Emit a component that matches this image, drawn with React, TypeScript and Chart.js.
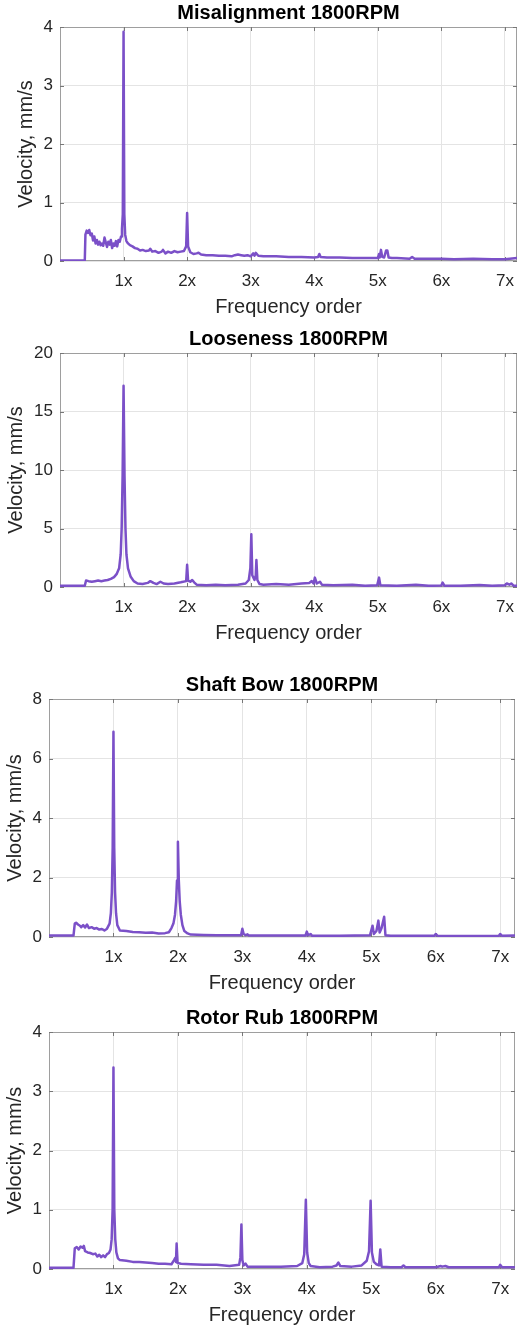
import { useEffect, useRef } from 'react';
import { Chart, registerables } from 'chart.js';

Chart.register(...registerables);

// ---------- data ----------
const orderTicks = [1, 2, 3, 4, 5, 6, 7];
const orderTickLabels = ['1x', '2x', '3x', '4x', '5x', '6x', '7x'];

// [frequency order, velocity mm/s]
const misalignment: [number, number][] = [
  [0, 0.01], [0.39, 0.01], [0.4, 0.45], [0.42, 0.52], [0.44, 0.48], [0.46, 0.53], [0.48, 0.44],
  [0.5, 0.47], [0.52, 0.35], [0.54, 0.42], [0.56, 0.3], [0.58, 0.36], [0.6, 0.28], [0.62, 0.33],
  [0.64, 0.27], [0.66, 0.3], [0.68, 0.26], [0.7, 0.4], [0.72, 0.32], [0.74, 0.24], [0.76, 0.33],
  [0.78, 0.28], [0.8, 0.36], [0.82, 0.22], [0.84, 0.3], [0.86, 0.26], [0.88, 0.34], [0.9, 0.25],
  [0.92, 0.36], [0.94, 0.33], [0.96, 0.42], [0.975, 0.55], [0.988, 0.8], [1.0, 3.92], [1.012, 0.8],
  [1.025, 0.45], [1.045, 0.34], [1.07, 0.3], [1.1, 0.27], [1.14, 0.25], [1.18, 0.22], [1.22, 0.21],
  [1.26, 0.18], [1.3, 0.19], [1.35, 0.17], [1.4, 0.18], [1.42, 0.21], [1.45, 0.16], [1.5, 0.17],
  [1.55, 0.14], [1.6, 0.16], [1.62, 0.19], [1.66, 0.13], [1.7, 0.16], [1.75, 0.14], [1.8, 0.17],
  [1.85, 0.15], [1.9, 0.16], [1.95, 0.17], [1.985, 0.25], [2.0, 0.82], [2.015, 0.25], [2.05, 0.15],
  [2.1, 0.12], [2.15, 0.13], [2.18, 0.14], [2.22, 0.11], [2.3, 0.1], [2.4, 0.1], [2.5, 0.09],
  [2.6, 0.09], [2.7, 0.08], [2.75, 0.1], [2.8, 0.11], [2.85, 0.1], [2.9, 0.09], [2.95, 0.1],
  [3.0, 0.08], [3.04, 0.13], [3.06, 0.09], [3.08, 0.14], [3.12, 0.09], [3.2, 0.08], [3.4, 0.08],
  [3.6, 0.07], [3.8, 0.07], [4.0, 0.06], [4.06, 0.07], [4.08, 0.12], [4.1, 0.07], [4.2, 0.06],
  [4.4, 0.06], [4.6, 0.05], [4.8, 0.05], [5.0, 0.05], [5.02, 0.12], [5.03, 0.06], [5.05, 0.19],
  [5.07, 0.07], [5.1, 0.06], [5.13, 0.18], [5.15, 0.18], [5.17, 0.06], [5.22, 0.05], [5.3, 0.05],
  [5.5, 0.04], [5.54, 0.07], [5.58, 0.04], [5.8, 0.04], [6.0, 0.04], [6.2, 0.03], [6.5, 0.04],
  [6.8, 0.03], [7.0, 0.03], [7.19, 0.05],
];

const looseness: [number, number][] = [
  [0, 0.1], [0.39, 0.1], [0.41, 0.55], [0.45, 0.5], [0.5, 0.45], [0.55, 0.5], [0.6, 0.55],
  [0.65, 0.5], [0.7, 0.55], [0.75, 0.6], [0.8, 0.7], [0.85, 0.85], [0.89, 1.1], [0.93, 1.6],
  [0.955, 2.8], [0.97, 5.0], [0.985, 9.5], [1.0, 17.2], [1.015, 9.5], [1.03, 5.0], [1.045, 2.8],
  [1.07, 1.6], [1.11, 0.9], [1.16, 0.5], [1.22, 0.3], [1.3, 0.25], [1.38, 0.35], [1.42, 0.5],
  [1.47, 0.35], [1.52, 0.25], [1.58, 0.45], [1.63, 0.3], [1.7, 0.25], [1.8, 0.3], [1.9, 0.4],
  [1.985, 0.5], [2.0, 1.9], [2.015, 0.55], [2.05, 0.45], [2.08, 0.6], [2.11, 0.4], [2.15, 0.2],
  [2.3, 0.15], [2.45, 0.2], [2.6, 0.15], [2.8, 0.2], [2.92, 0.3], [2.97, 0.6], [2.995, 1.6],
  [3.01, 4.5], [3.025, 1.0], [3.06, 0.6], [3.08, 1.0], [3.09, 2.3], [3.105, 0.6], [3.14, 0.25],
  [3.2, 0.2], [3.4, 0.25], [3.6, 0.2], [3.8, 0.3], [3.92, 0.35], [3.96, 0.5], [3.99, 0.3],
  [4.01, 0.8], [4.04, 0.3], [4.09, 0.45], [4.12, 0.2], [4.3, 0.15], [4.6, 0.2], [4.8, 0.1],
  [4.99, 0.15], [5.02, 0.8], [5.04, 0.15], [5.3, 0.1], [5.6, 0.2], [5.8, 0.1], [6.0, 0.12],
  [6.02, 0.38], [6.05, 0.1], [6.3, 0.1], [6.6, 0.18], [6.8, 0.1], [7.0, 0.15], [7.03, 0.3],
  [7.07, 0.2], [7.1, 0.3], [7.14, 0.1], [7.19, 0.1],
];

const shaftBow: [number, number][] = [
  [0, 0.05], [0.38, 0.05], [0.4, 0.45], [0.42, 0.48], [0.45, 0.42], [0.48, 0.38], [0.5, 0.33],
  [0.53, 0.4], [0.56, 0.32], [0.59, 0.42], [0.62, 0.3], [0.66, 0.33], [0.7, 0.28], [0.74, 0.3],
  [0.78, 0.25], [0.82, 0.27], [0.86, 0.22], [0.9, 0.28], [0.94, 0.45], [0.96, 0.8], [0.975, 1.5],
  [0.988, 3.0], [1.0, 6.9], [1.012, 3.0], [1.025, 1.5], [1.04, 0.8], [1.06, 0.4], [1.1, 0.22],
  [1.2, 0.2], [1.3, 0.17], [1.4, 0.16], [1.5, 0.14], [1.6, 0.15], [1.7, 0.12], [1.8, 0.13],
  [1.86, 0.16], [1.9, 0.3], [1.93, 0.45], [1.955, 0.75], [1.972, 1.2], [1.986, 1.9], [2.0, 3.2],
  [2.014, 1.9], [2.028, 1.2], [2.045, 0.75], [2.07, 0.4], [2.1, 0.2], [2.15, 0.12], [2.2, 0.08],
  [2.4, 0.07], [2.6, 0.06], [2.8, 0.06], [2.98, 0.06],
  [3.0, 0.28], [3.02, 0.1], [3.05, 0.06], [3.08, 0.09], [3.1, 0.05], [3.5, 0.05], [3.98, 0.05],
  [4.0, 0.18], [4.02, 0.06], [4.06, 0.1], [4.08, 0.04], [4.5, 0.04], [4.98, 0.06], [5.02, 0.38],
  [5.04, 0.1], [5.08, 0.2], [5.11, 0.55], [5.13, 0.15], [5.16, 0.3], [5.2, 0.68], [5.22, 0.06],
  [5.3, 0.04], [5.6, 0.04], [5.98, 0.04], [6.0, 0.1], [6.03, 0.04], [6.5, 0.03], [6.98, 0.04],
  [7.0, 0.1], [7.03, 0.04], [7.23, 0.05],
];

const rotorRub: [number, number][] = [
  [0, 0.02], [0.38, 0.02], [0.4, 0.35], [0.43, 0.37], [0.46, 0.33], [0.49, 0.38], [0.52, 0.36],
  [0.54, 0.39], [0.56, 0.3], [0.6, 0.28], [0.64, 0.27], [0.68, 0.25], [0.72, 0.26], [0.75, 0.21],
  [0.78, 0.24], [0.81, 0.2], [0.84, 0.23], [0.87, 0.2], [0.9, 0.25], [0.93, 0.27], [0.955, 0.33],
  [0.972, 0.5], [0.987, 1.0], [1.0, 3.4], [1.013, 1.0], [1.028, 0.5], [1.045, 0.28], [1.07, 0.18],
  [1.1, 0.15], [1.2, 0.14], [1.3, 0.12], [1.4, 0.12], [1.5, 0.11], [1.6, 0.1], [1.7, 0.09],
  [1.8, 0.09], [1.9, 0.08], [1.94, 0.15], [1.96, 0.19], [1.97, 0.12], [1.98, 0.43], [1.995, 0.1],
  [2.05, 0.09], [2.2, 0.08], [2.4, 0.07], [2.6, 0.07], [2.8, 0.05], [2.95, 0.07], [2.97, 0.2],
  [2.985, 0.75], [3.0, 0.15], [3.02, 0.06], [3.05, 0.09], [3.08, 0.04], [3.3, 0.04], [3.6, 0.04],
  [3.85, 0.05], [3.93, 0.1], [3.96, 0.25], [3.985, 1.17], [4.005, 0.28], [4.03, 0.1], [4.06, 0.05],
  [4.2, 0.03], [4.4, 0.04], [4.46, 0.06], [4.49, 0.11], [4.52, 0.05], [4.7, 0.04], [4.85, 0.06],
  [4.93, 0.14], [4.965, 0.3], [4.99, 1.15], [5.01, 0.28], [5.04, 0.12], [5.08, 0.08], [5.12, 0.06],
  [5.14, 0.33], [5.16, 0.04], [5.3, 0.03], [5.47, 0.03], [5.5, 0.06], [5.53, 0.03], [6.0, 0.03],
  [6.08, 0.05], [6.1, 0.04], [6.15, 0.05], [6.2, 0.03], [6.98, 0.03], [7.0, 0.07], [7.03, 0.03],
  [7.23, 0.03],
];

// ---------- layout / style ----------
const FONT = '"Liberation Sans", Arial, Helvetica, sans-serif';
const LINE_COLOR = '#7b50c8';
const TEXT_COLOR = '#262626';
const TITLE_SIZE = 20;
const LABEL_SIZE = 20;
const TICK_SIZE = 17;
const TITLE_BLOCK = 27;
const X_AXIS_HEIGHT = 58;

type PanelProps = {
  title: string;
  data: [number, number][];
  yMax: number;
  yStep: number;
  xMax: number;
  plotLeft: number;
  plotRight: number;
  plotTop: number;
  plotBottom: number;
  yTitleCenter: number;
};

const framePlugin = {
  id: 'matlabFrame',
  beforeDatasetsDraw(chart: any) {
    const { ctx, chartArea, scales } = chart;
    const { left, top, right, bottom } = chartArea;
    ctx.save();
    ctx.strokeStyle = '#9e9e9e';
    ctx.lineWidth = 1;
    ctx.strokeRect(Math.round(left) + 0.5, Math.round(top) + 0.5, Math.round(right - left) - 1, Math.round(bottom - top) - 1);
    ctx.strokeStyle = '#777';
    ctx.beginPath();
    scales.x.ticks.forEach((t: any) => {
      const px = Math.round(scales.x.getPixelForValue(t.value)) + 0.5;
      ctx.moveTo(px, bottom);
      ctx.lineTo(px, bottom - 4);
      ctx.moveTo(px, top);
      ctx.lineTo(px, top + 4);
    });
    scales.y.ticks.forEach((t: any) => {
      const py = Math.round(scales.y.getPixelForValue(t.value)) + 0.5;
      ctx.moveTo(left, py);
      ctx.lineTo(left + 4, py);
      ctx.moveTo(right, py);
      ctx.lineTo(right - 4, py);
    });
    ctx.stroke();
    ctx.restore();
  },
};

function SpectrumPanel(p: PanelProps) {
  const ref = useRef<HTMLCanvasElement | null>(null);
  const canvasTop = p.plotTop - TITLE_BLOCK;
  const height = p.plotBottom - p.plotTop + TITLE_BLOCK + X_AXIS_HEIGHT;

  useEffect(() => {
    if (!ref.current) return;
    const chart = new Chart(ref.current, {
      type: 'line',
      data: {
        datasets: [
          {
            data: p.data.map(([x, y]) => ({ x, y })),
            borderColor: LINE_COLOR,
            borderWidth: 2.5,
            pointRadius: 0,
            tension: 0,
            fill: false,
            borderJoinStyle: 'round',
          },
        ],
      },
      options: {
        animation: false,
        responsive: false,
        devicePixelRatio: 1,
        layout: { padding: { left: 0, right: 522 - p.plotRight, top: 0, bottom: 0 } },
        plugins: {
          legend: { display: false },
          tooltip: { enabled: false },
          title: {
            display: true,
            fullSize: false,
            text: p.title,
            color: '#000',
            font: { family: FONT, size: TITLE_SIZE, weight: 'bold', lineHeight: 1.2 },
            padding: { top: 1, bottom: TITLE_BLOCK - 1 - TITLE_SIZE * 1.2 },
          },
        },
        scales: {
          x: {
            type: 'linear',
            min: 0,
            max: p.xMax,
            afterBuildTicks: (s: any) => {
              s.ticks = orderTicks.map((v) => ({ value: v }));
            },
            afterFit: (s: any) => {
              s.height = X_AXIS_HEIGHT;
              s.paddingLeft = 0;
              s.paddingRight = 0;
            },
            grid: { color: '#e4e4e4', drawTicks: false, lineWidth: 1 },
            border: { display: false },
            ticks: {
              autoSkip: false,
              maxRotation: 0,
              padding: 10,
              color: TEXT_COLOR,
              font: { family: FONT, size: TICK_SIZE },
              callback: (_v: any, i: number) => orderTickLabels[i],
            },
            title: {
              display: true,
              text: 'Frequency order',
              color: TEXT_COLOR,
              font: { family: FONT, size: LABEL_SIZE, lineHeight: 1.2 },
              padding: { top: 0, bottom: 0 },
            },
          },
          y: {
            min: 0,
            max: p.yMax,
            afterFit: (s: any) => {
              s.width = p.plotLeft;
              s.paddingTop = 0;
              s.paddingBottom = 0;
            },
            grid: { color: '#e4e4e4', drawTicks: false, lineWidth: 1 },
            border: { display: false },
            ticks: {
              stepSize: p.yStep,
              padding: 7,
              color: TEXT_COLOR,
              font: { family: FONT, size: TICK_SIZE },
            },
            title: {
              display: true,
              text: 'Velocity, mm/s',
              color: TEXT_COLOR,
              font: { family: FONT, size: LABEL_SIZE, lineHeight: 1.2 },
              padding: { top: p.yTitleCenter - (LABEL_SIZE * 1.2) / 2, bottom: 0 },
            },
          },
        },
      } as any,
      plugins: [framePlugin],
    });
    return () => chart.destroy();
  }, []);

  return (
    <div style={{ position: 'absolute', left: 0, top: canvasTop, width: 522, height }}>
      <canvas ref={ref} width={522} height={height} style={{ display: 'block', width: 522, height }} />
    </div>
  );
}

export default function App() {
  return (
    <div style={{ position: 'absolute', left: 0, top: 0, width: 522, height: 1330, background: '#fff' }}>
      <SpectrumPanel title="Misalignment 1800RPM" data={misalignment} yMax={4} yStep={1} xMax={7.19}
        plotLeft={60} plotRight={517} plotTop={27} plotBottom={261} yTitleCenter={26} />
      <SpectrumPanel title="Looseness 1800RPM" data={looseness} yMax={20} yStep={5} xMax={7.19}
        plotLeft={60} plotRight={517} plotTop={353} plotBottom={587} yTitleCenter={16.5} />
      <SpectrumPanel title="Shaft Bow 1800RPM" data={shaftBow} yMax={8} yStep={2} xMax={7.23}
        plotLeft={49} plotRight={515} plotTop={699} plotBottom={937} yTitleCenter={15} />
      <SpectrumPanel title="Rotor Rub 1800RPM" data={rotorRub} yMax={4} yStep={1} xMax={7.23}
        plotLeft={49} plotRight={515} plotTop={1032} plotBottom={1269} yTitleCenter={15} />
    </div>
  );
}
